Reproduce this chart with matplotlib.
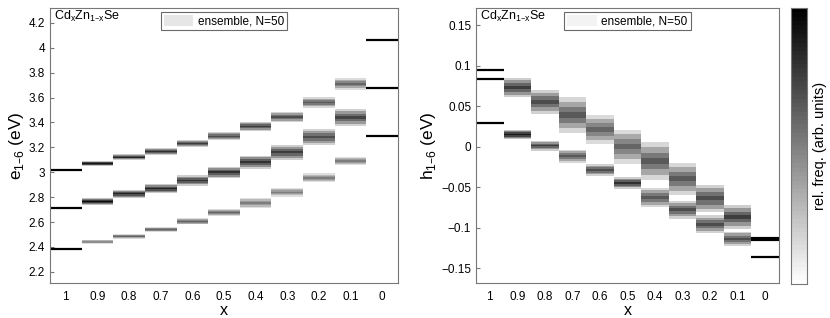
import numpy as np
import matplotlib.pyplot as plt
from matplotlib.patches import Patch

plt.rcParams['font.family'] = ['Liberation Sans', 'DejaVu Sans']

x_labels = ['1', '0.9', '0.8', '0.7', '0.6', '0.5', '0.4', '0.3', '0.2', '0.1', '0']

# pure compounds (x=1 CdSe, x=0 ZnSe): sharp levels
e_pure_cd = [3.02, 2.71, 2.385]
e_pure_zn = [4.065, 3.675, 3.29]
h_pure_cd = [0.094, 0.0835, 0.0285]
h_pure_zn = [-0.114, -0.136]
h_pure_zn_lw = [3.0, 1.6]

# alloy ensembles, columns x=0.9 ... 0.1 : centres, half widths, darkness
e_top = [3.07, 3.122, 3.165, 3.23, 3.29, 3.37, 3.445, 3.56, 3.71]
e_top_w = [0.02, 0.024, 0.028, 0.03, 0.032, 0.036, 0.04, 0.042, 0.045]
e_top_d = [0.9, 0.85, 0.8, 0.75, 0.7, 0.75, 0.7, 0.65, 0.6]
e_mid = [2.767, 2.827, 2.867, 2.934, 3.0, 3.08, 3.16, 3.283, 3.44]
e_mid_w = [0.028, 0.032, 0.036, 0.042, 0.046, 0.052, 0.058, 0.065, 0.07]
e_mid_d = [0.95, 0.85, 0.85, 0.8, 0.8, 0.8, 0.75, 0.7, 0.72]
e_low = [2.44, 2.485, 2.54, 2.606, 2.678, 2.754, 2.84, 2.955, 3.09]
e_low_w = [0.016, 0.018, 0.02, 0.024, 0.026, 0.042, 0.035, 0.035, 0.032]
e_low_d = [0.55, 0.6, 0.6, 0.6, 0.6, 0.5, 0.5, 0.5, 0.5]

h_top = [0.073, 0.055, 0.039, 0.021, 0.0, -0.018, -0.04, -0.064, -0.087]
h_top_w = [0.012, 0.015, 0.022, 0.018, 0.021, 0.023, 0.02, 0.017, 0.015]
h_top_d = [0.75, 0.7, 0.65, 0.6, 0.6, 0.65, 0.65, 0.7, 0.75]
h_low = [0.015, 0.001, -0.012, -0.029, -0.045, -0.063, -0.078, -0.096, -0.114]
h_low_w = [0.006, 0.006, 0.008, 0.007, 0.007, 0.012, 0.011, 0.011, 0.009]
h_low_d = [0.9, 0.75, 0.65, 0.7, 0.8, 0.65, 0.7, 0.7, 0.7]

cmap = plt.get_cmap('gray_r', 64)
cols = np.arange(1, 10)


def draw_bands(ax, centres, widths, dark):
    # nested layers: light tails, body, dark core
    for frac, scale in [(1.0, 0.25), (0.75, 0.55), (0.45, 0.8), (0.15, 1.0)]:
        for c, y, w, d in zip(cols, centres, widths, dark):
            ax.bar(c, 2 * w * frac, bottom=y - w * frac, width=1.0,
                   color=cmap(d * scale), linewidth=0)


def style(ax, ylab):
    ax.set_xlim(-0.5, 10.5)
    ax.set_xticks(range(11))
    ax.set_xticklabels(x_labels)
    ax.set_xlabel('x', fontsize=11.5, labelpad=0)
    ax.set_ylabel(ylab, fontsize=12.5, labelpad=2)
    ax.tick_params(direction='in', length=3, labelsize=8.5, color='#777777')
    ax.tick_params(axis='x', length=0, pad=6)
    for s in ax.spines.values():
        s.set_color('#777777')
        s.set_linewidth(0.8)
    ax.text(0.012, 0.995, 'Cd$_{\\mathregular{x}}$Zn$_{\\mathregular{1\u2013x}}$Se',
            transform=ax.transAxes, va='top', ha='left', fontsize=9)


fig = plt.figure(figsize=(8.3, 3.18), dpi=100)
ax1 = fig.add_axes([50 / 830, 35 / 318, 348 / 830, 275 / 318])
ax2 = fig.add_axes([476 / 830, 35 / 318, 303 / 830, 275 / 318])
cax = fig.add_axes([791 / 830, 34 / 318, 16 / 830, 276 / 318])

draw_bands(ax1, e_top, e_top_w, e_top_d)
draw_bands(ax1, e_mid, e_mid_w, e_mid_d)
draw_bands(ax1, e_low, e_low_w, e_low_d)
ax1.hlines(e_pure_cd, -0.5, 0.5, color='black', lw=1.6)
ax1.hlines(e_pure_zn, 9.5, 10.5, color='black', lw=1.6)
ax1.set_ylim(2.11, 4.32)
ax1.set_yticks(np.arange(2.2, 4.21, 0.2))
ax1.set_yticklabels(['2.2', '2.4', '2.6', '2.8', '3', '3.2', '3.4', '3.6', '3.8', '4', '4.2'])
style(ax1, 'e$_{\\mathregular{1\u20136}}$ (eV)')

draw_bands(ax2, h_top, h_top_w, h_top_d)
draw_bands(ax2, h_low, h_low_w, h_low_d)
ax2.hlines(h_pure_cd, -0.5, 0.5, color='black', lw=1.6)
ax2.hlines(h_pure_zn, 9.5, 10.5, color='black', lw=h_pure_zn_lw)
ax2.set_ylim(-0.1685, 0.171)
ax2.set_yticks([-0.15, -0.1, -0.05, 0, 0.05, 0.1, 0.15])
ax2.set_yticklabels(['\u22120.15', '\u22120.1', '\u22120.05', '0', '0.05', '0.1', '0.15'])
style(ax2, 'h$_{\\mathregular{1\u20136}}$ (eV)')

for ax, fc in [(ax1, '#e6e6e6'), (ax2, '#f3f3f3')]:
    leg = ax.legend([Patch(facecolor=fc, edgecolor='none')], ['ensemble, N=50'],
                    loc='upper center', bbox_to_anchor=(0.5, 0.985), fontsize=8.5,
                    frameon=True, fancybox=False, handlelength=2.5, handleheight=1.0,
                    borderpad=0.25, handletextpad=0.4, borderaxespad=0)
    leg.get_frame().set_edgecolor('#444444')
    leg.get_frame().set_linewidth(0.8)

grad = np.linspace(0, 1, 64).reshape(-1, 1)
cax.imshow(grad, cmap=cmap, aspect='auto', origin='lower', extent=[0, 1, 0, 1])
cax.set_xticks([])
cax.set_yticks([])
for s in cax.spines.values():
    s.set_color('#777777')
    s.set_linewidth(0.8)
cax.yaxis.set_label_position('right')
cax.set_ylabel('rel. freq. (arb. units)', fontsize=10.5, labelpad=4)

fig.savefig('out.png', dpi=100)
